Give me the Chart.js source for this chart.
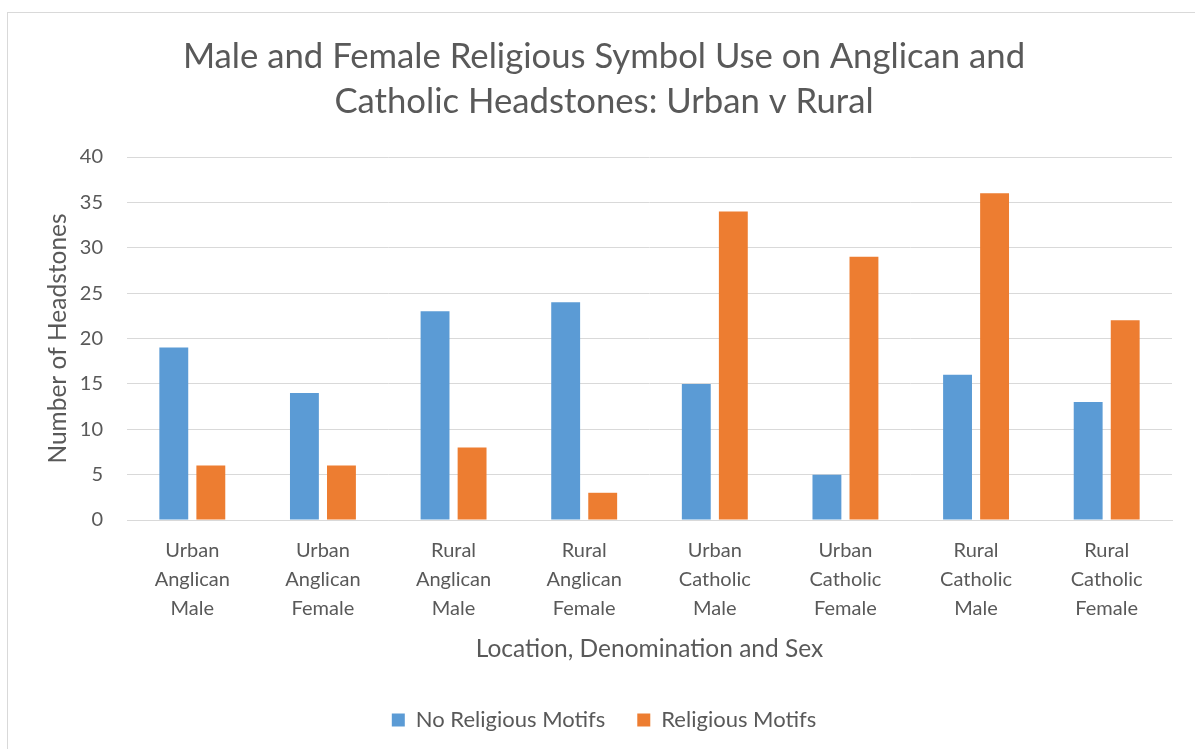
<!DOCTYPE html>
<html>
<head>
<meta charset="utf-8">
<script src="https://cdn.jsdelivr.net/npm/chart.js@4"></script>
<style>
  html, body { margin: 0; padding: 0; background: #ffffff; overflow: hidden; }
  #frame { position: absolute; left: 7px; top: 12px; width: 1200px; height: 800px; border: 1px solid #d9d9d9; box-sizing: border-box; }
  #wrap { position: absolute; left: 0; top: 0; width: 1195px; height: 741px; }
</style>
</head>
<body>
<div id="frame"></div>
<div id="wrap"><canvas id="chart" width="1195" height="741"></canvas></div>
<script>
// Headstone counts by location, denomination and sex
const categories = [
  ["Urban", "Anglican", "Male"],
  ["Urban", "Anglican", "Female"],
  ["Rural", "Anglican", "Male"],
  ["Rural", "Anglican", "Female"],
  ["Urban", "Catholic", "Male"],
  ["Urban", "Catholic", "Female"],
  ["Rural", "Catholic", "Male"],
  ["Rural", "Catholic", "Female"]
];
const noReligiousMotifs = [19, 14, 23, 24, 15, 5, 16, 13];
const religiousMotifs = [6, 6, 8, 3, 34, 29, 36, 22];
const yTicks = [0, 5, 10, 15, 20, 25, 30, 35, 40];

const FONT = "Lato, 'Open Sans', sans-serif";
const TEXT = "#595959";
const GRID = "#d9d9d9";

new Chart(document.getElementById("chart"), {
  type: "bar",
  data: {
    labels: categories,
    datasets: [
      { label: "No Religious Motifs", data: noReligiousMotifs, backgroundColor: "#5b9bd5", borderWidth: 0 },
      { label: "Religious Motifs", data: religiousMotifs, backgroundColor: "#ed7d31", borderWidth: 0 }
    ]
  },
  options: {
    responsive: false,
    animation: false,
    events: [],
    categoryPercentage: 0.567,
    barPercentage: 0.78,
    layout: { padding: { left: 36, right: 23, top: 0, bottom: 0 } },
    plugins: {
      title: {
        display: true,
        text: ["Male and Female Religious Symbol Use on Anglican and", "Catholic Headstones: Urban v Rural"],
        color: TEXT,
        font: { family: FONT, size: 34.7, weight: "normal", lineHeight: 45 / 34.7 },
        padding: { top: 34.5, bottom: 32.5 }
      },
      legend: {
        position: "bottom",
        labels: {
          color: TEXT,
          font: { family: FONT, size: 22 },
          boxWidth: 13,
          boxHeight: 13,
          padding: 32
        }
      },
      tooltip: { enabled: false }
    },
    scales: {
      x: {
        grid: { display: false, drawTicks: false },
        border: { display: true, color: GRID, width: 1 },
        ticks: {
          color: TEXT,
          font: { family: FONT, size: 20, lineHeight: 1.45 },
          padding: 16.5,
          maxRotation: 0,
          autoSkip: false
        },
        title: {
          display: true,
          text: "Location, Denomination and Sex",
          color: TEXT,
          font: { family: FONT, size: 24.5, lineHeight: 1.2 },
          padding: { top: 0, bottom: 13.3 }
        },
        afterFit: (scale) => { scale.height = 157; }
      },
      y: {
        min: 0,
        max: 40,
        afterBuildTicks: (scale) => { scale.ticks = yTicks.map(v => ({ value: v })); },
        grid: { color: GRID, lineWidth: 1, drawTicks: false },
        border: { display: false },
        ticks: {
          color: TEXT,
          font: { family: FONT, size: 20 },
          padding: 24
        },
        title: {
          display: true,
          text: "Number of Headstones",
          color: TEXT,
          font: { family: FONT, size: 24.5, lineHeight: 1.2 },
          padding: { top: 7.3, bottom: 0 }
        },
        afterFit: (scale) => { scale.width = 91; }
      }
    }
  }
});
</script>
</body>
</html>
